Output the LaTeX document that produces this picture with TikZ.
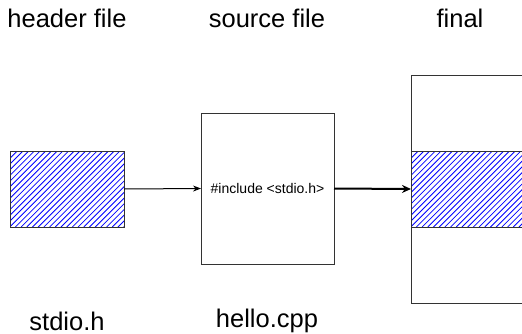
\documentclass[tikz,border=0pt]{standalone}
\usepackage{fontspec}
\setmainfont{Liberation Sans}
\usetikzlibrary{arrows.meta}
\definecolor{edge}{HTML}{333333}
\tikzset{
  box/.style={draw=edge, line width=1pt, inner sep=0pt, outer sep=0pt},
  biglabel/.style={font=\fontsize{25.5}{30}\selectfont, inner sep=0pt, anchor=base},
  hatchline/.style={draw=blue, line width=0.8pt},
  link/.style={draw=black, line width=1pt, -{Stealth[length=8pt, width=6pt]}},
  boldlink/.style={draw=black, line width=2pt, -{Stealth[length=9pt, width=8pt]}}
}
% diagonal blue hatching inside the rectangle (#1,#2)-(#3,#4)
\newcommand{\hatchfill}[4]{%
  \begin{scope}
    \clip (#1,#2) rectangle (#3,#4);
    \foreach \s in {-120,-114.3,...,260} {
      \draw[hatchline] (#1+\s,#4) -- ++(120,-120);
    }
  \end{scope}}
\begin{document}
\begin{tikzpicture}[x=1pt, y=-1pt]
  \useasboundingbox (0,0) rectangle (522,333);
  \clip (0,0) rectangle (522,333);
  % column titles
  \node[biglabel] (thead) at (67,27) {header file};
  \node[biglabel] (tsrc)  at (267,27) {source file};
  \node[biglabel] (tfin)  at (460,27) {final};
  % header file
  \hatchfill{10}{151}{124}{227}
  \node[box, minimum width=114pt, minimum height=76pt] (hdr) at (67,189) {};
  % source file
  \node[box, minimum width=133pt, minimum height=151pt] (src) at (267.5,188.5)
    {\fontsize{14}{17}\selectfont \#include <stdio.h>};
  % result: source with the header pasted in
  \node[box, minimum width=140pt, minimum height=228pt, anchor=north west] (fin) at (411,75) {};
  \hatchfill{411}{151}{551}{227}
  \node[box, minimum width=140pt, minimum height=76pt, anchor=north west] (band) at (411,151) {};
  % file names
  \node[biglabel] (nhdr) at (67,330) {stdio.h};
  \node[biglabel] (nsrc) at (267,327) {hello.cpp};
  % connectors
  \draw[link] (hdr.east) -- (src.west);
  \draw[boldlink] (src.east) -- (band.west);
\end{tikzpicture}
\end{document}
